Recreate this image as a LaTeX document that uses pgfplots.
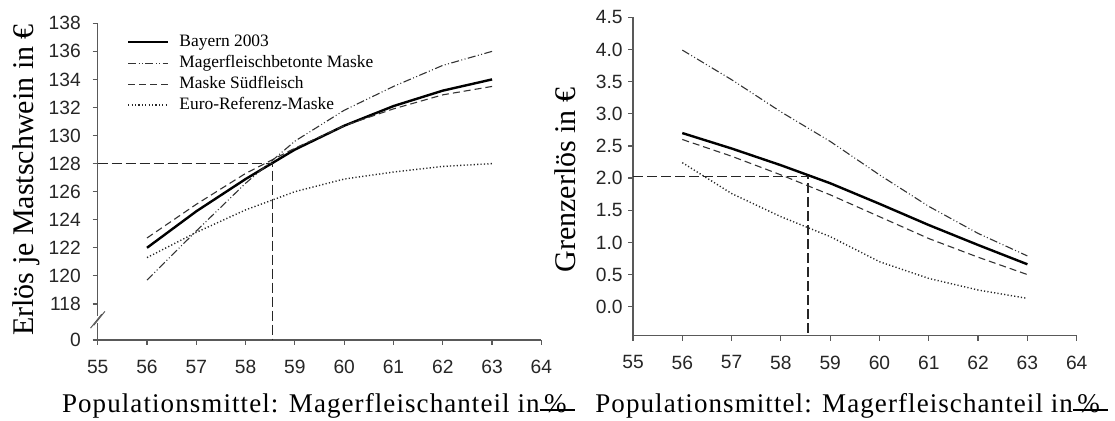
\documentclass[border=0pt]{standalone}
\usepackage{fontspec}
\setmainfont{Liberation Serif}
\setsansfont{Liberation Sans}
\newfontfamily\spaced[LetterSpace=4]{Liberation Serif}
\usepackage{pgfplots}
\pgfplotsset{compat=1.18}

\pgfplotsset{
  chartbase/.style={
    scale only axis,
    width=221.85pt,
    axis lines=left,
    axis line style={-, black!65, line width=0.6pt},
    tick style={black!65, line width=0.6pt},
    tick align=outside,
    major tick length=2.5pt,
    xmin=55, xmax=64,
    xtick={55,56,57,58,59,60,61,62,63,64},
    xticklabels={55,56,57,58,59,60,61,62,63,64},
    ticklabel style={font=\sffamily\fontsize{9.6}{11}\selectfont, text=black!85},
    xticklabel style={anchor=north, inner sep=0pt, yshift=-7.3pt},
    clip=false,
    legend image code/.code={\draw[#1] (0pt,0pt) -- (20pt,0pt);},
  },
  bay/.style={black, line width=1.2pt},
  mag/.style={black!80, line width=0.55pt, dash pattern=on 4pt off 1.2pt on 0.5pt off 1.2pt on 0.5pt off 1.2pt},
  sud/.style={black!80, line width=0.55pt, dash pattern=on 3.5pt off 2pt},
  eur/.style={black!85, line width=0.7pt, dash pattern=on 0.6pt off 1.1pt},
  guide/.style={black!85, line width=0.55pt, dash pattern=on 5pt off 2pt},
}

\begin{document}
\begin{tikzpicture}
\useasboundingbox (0,0) rectangle (557.5pt,210.5pt);

% left: Erloes je Mastschwein
\begin{axis}[chartbase, at={(48.85pt,40.5pt)}, anchor=south west,
  height=158.35pt,
  ymin=115.43, ymax=138,
  ytick={115.43,118,120,122,124,126,128,130,132,134,136,138},
  yticklabels={0,118,120,122,124,126,128,130,132,134,136,138},
  yticklabel style={anchor=east, inner sep=0pt, xshift=-5.8pt},
  legend style={at={(0,1)}, anchor=north west, xshift=14.5pt, yshift=-5pt,
    draw=none, fill=none, inner sep=0pt,
    font=\fontsize{8.7}{10}\selectfont,
    nodes={inner sep=0pt, text height=6.5pt, text depth=2pt},
    row sep=2pt,
    /tikz/every odd column/.append style={column sep=5pt}},
  legend cell align=left,
]
\addplot[bay] coordinates {(56,122.0) (57,124.6) (58,126.9) (59,129.0) (60,130.7) (61,132.1) (62,133.2) (63,134.0)};
\addlegendentry{Bayern 2003}
\addplot[mag] coordinates {(56,119.7) (57,123.2) (58,126.6) (59,129.6) (60,131.8) (61,133.5) (62,135.0) (63,136.0)};
\addlegendentry{Magerfleischbetonte Maske}
\addplot[sud] coordinates {(56,122.7) (57,125.1) (58,127.3) (59,129.1) (60,130.7) (61,131.9) (62,132.9) (63,133.5)};
\addlegendentry{Maske Südfleisch}
\addplot[eur] coordinates {(56,121.3) (57,123.1) (58,124.7) (59,126.0) (60,126.9) (61,127.4) (62,127.8) (63,128.0)};
\addlegendentry{Euro-Referenz-Maske}
\addplot[guide, forget plot] coordinates {(55,128) (58.55,128) (58.55,115.43)};
% axis break
\fill[white] ([shift={(-1pt,-1.8pt)}]axis cs:55,116.87) rectangle ([shift={(1pt,1.8pt)}]axis cs:55,116.87);
\draw[black!65, line width=0.5pt] ([shift={(-3.6pt,-4.2pt)}]axis cs:55,116.87) -- ++(5.6pt,7pt);
\draw[black!65, line width=0.5pt] ([shift={(-2.0pt,-2.8pt)}]axis cs:55,116.87) -- ++(5.6pt,7pt);
\end{axis}

% right: Grenzerloes
\begin{axis}[chartbase, at={(316.5pt,42.65pt)}, anchor=south west,
  height=159.2pt,
  ymin=-0.45, ymax=4.5,
  ytick={0,0.5,1,1.5,2,2.5,3,3.5,4,4.5},
  yticklabels={0.0,0.5,1.0,1.5,2.0,2.5,3.0,3.5,4.0,4.5},
  yticklabel style={anchor=east, inner sep=0pt, xshift=-2.5pt},
]
\addplot[bay] coordinates {(56,2.70) (57,2.46) (58,2.20) (59,1.92) (60,1.60) (61,1.27) (62,0.96) (63,0.66)};
\addplot[mag] coordinates {(56,3.99) (57,3.53) (58,3.03) (59,2.57) (60,2.05) (61,1.56) (62,1.14) (63,0.79)};
\addplot[sud] coordinates {(56,2.60) (57,2.34) (58,2.05) (59,1.74) (60,1.40) (61,1.06) (62,0.77) (63,0.50)};
\addplot[eur] coordinates {(56,2.24) (57,1.76) (58,1.40) (59,1.09) (60,0.70) (61,0.44) (62,0.26) (63,0.13)};
\addplot[guide] coordinates {(55,2.03) (58.55,2.03) (58.55,-0.45)};
\end{axis}

% axis titles
\node[font=\fontsize{15}{18}\selectfont, rotate=90, anchor=base] at (16.65pt,120.5pt) {Erlös je Mastschwein in €};
\node[font=\fontsize{15}{18}\selectfont, rotate=90, anchor=base] at (287.5pt,120.5pt) {Grenzerlös in €};
\node[font=\spaced\fontsize{13.5}{15}\selectfont, anchor=base west, inner sep=0pt] at (30.85pt,4pt)
  {Populationsmittel: Magerfleischanteil in\rlap{\rule[0.2ex]{1.3em}{0.05em}}\,\%};
\node[font=\spaced\fontsize{13.5}{15}\selectfont, anchor=base west, inner sep=0pt] at (297.5pt,4pt)
  {Populationsmittel: Magerfleischanteil in\rlap{\rule[0.2ex]{1.3em}{0.05em}}\,\%};
\end{tikzpicture}
\end{document}
